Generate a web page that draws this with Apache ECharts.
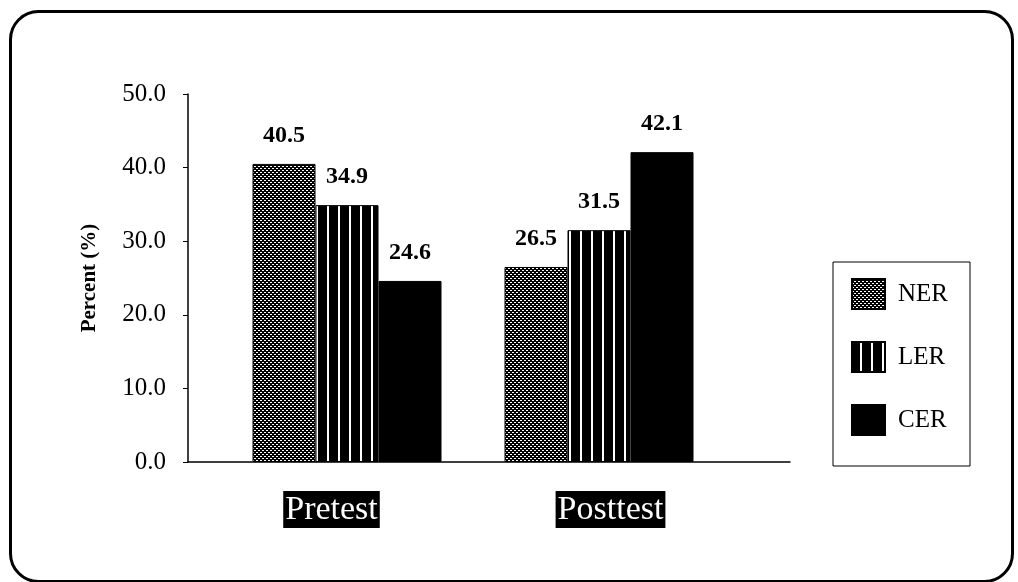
<!DOCTYPE html>
<html>
<head>
<meta charset="utf-8">
<script src="https://cdn.jsdelivr.net/npm/echarts@6/dist/echarts.min.js"></script>
<style>
html,body{margin:0;padding:0;background:#fff;}
#chart{width:1018px;height:582px;}
</style>
</head>
<body>
<div id="chart"></div>
<script>
var categories = ['Pretest', 'Posttest'];
var seriesNames = ['NER', 'LER', 'CER'];
var nerValues = [40.5, 26.5];
var lerValues = [34.9, 31.5];
var cerValues = [24.6, 42.1];
var yTicks = [0, 10, 20, 30, 40, 50];

function makePattern(w, h, draw) {
  var c = document.createElement('canvas');
  c.width = w; c.height = h;
  var ctx = c.getContext('2d');
  ctx.fillStyle = '#000';
  ctx.fillRect(0, 0, w, h);
  ctx.fillStyle = '#fff';
  draw(ctx);
  return { image: c, repeat: 'repeat' };
}
var dotPattern = makePattern(4, 4, function (ctx) {
  ctx.fillRect(0, 0, 2, 1);
  ctx.fillRect(2, 2, 2, 1);
});
var stripePattern = makePattern(11, 4, function (ctx) {
  ctx.fillRect(8, 0, 2, 4);
});

var serif = '"Liberation Serif", "DejaVu Serif", serif';
var chart = echarts.init(document.getElementById('chart'), null, { renderer: 'canvas' });

var labelCfg = {
  show: true,
  position: 'top',
  distance: 16,
  fontFamily: serif,
  fontWeight: 'bold',
  fontSize: 24,
  color: '#000',
  formatter: function (p) { return p.value.toFixed(1); }
};

function barSeries(name, values, color) {
  return {
    name: name,
    type: 'bar',
    xAxisIndex: 2,
    yAxisIndex: 2,
    data: values,
    barWidth: 63,
    barGap: '0%',
    itemStyle: { color: color, borderColor: '#000', borderWidth: 1 },
    label: labelCfg,
    emphasis: { disabled: true }
  };
}

var option = {
  backgroundColor: '#fff',
  animation: false,
  graphic: [{
    type: 'rect',
    left: 8, top: 9,
    shape: { width: 1002, height: 570, r: 28 },
    style: { fill: 'none', stroke: '#000', lineWidth: 3 },
    silent: true,
    z: -1
  }],
  grid: [
    { left: 188, right: 228, top: 94, bottom: 120 },
    { left: 192, right: 268, top: 94, bottom: 120 },
    { left: 221, right: 293, top: 94, bottom: 120 }
  ],
  legend: {
    orient: 'vertical',
    left: 833,
    top: 262,
    data: seriesNames,
    itemWidth: 33,
    itemHeight: 30,
    itemGap: 31,
    padding: [16, 22, 30, 18],
    borderColor: '#000',
    borderWidth: 1,
    icon: 'rect',
    selectedMode: false,
    textStyle: { fontFamily: serif, fontSize: 25, color: '#000', padding: [0, 0, 0, 8] }
  },
  xAxis: [
    {
      type: 'category', gridIndex: 0, data: categories,
      axisLine: { show: true, lineStyle: { color: '#000', width: 1.5 } },
      axisTick: { show: false },
      axisLabel: { show: false },
      splitLine: { show: false }
    },
    {
      type: 'category', gridIndex: 1, data: categories,
      axisLine: { show: false },
      axisTick: { show: false },
      splitLine: { show: false },
      axisLabel: {
        show: true,
        margin: 29,
        fontFamily: serif,
        fontSize: 34,
        color: '#fff',
        backgroundColor: '#000',
        padding: [1, 2, 0, 2],
        lineHeight: 36
      }
    },
    {
      type: 'category', gridIndex: 2, data: categories, show: false
    }
  ],
  yAxis: [
    {
      type: 'value', gridIndex: 0,
      min: yTicks[0], max: yTicks[yTicks.length - 1], interval: 10,
      axisLine: { show: true, lineStyle: { color: '#000', width: 1.5 } },
      axisTick: { show: true, length: 5, lineStyle: { color: '#000' } },
      splitLine: { show: false },
      axisLabel: {
        margin: 22,
        fontFamily: serif,
        fontSize: 25,
        color: '#000',
        formatter: function (v) { return v.toFixed(1); }
      },
      name: 'Percent (%)',
      nameLocation: 'middle',
      nameRotate: 90,
      nameGap: 88,
      nameTextStyle: { fontFamily: serif, fontWeight: 'bold', fontSize: 21, color: '#000' }
    },
    { type: 'value', gridIndex: 1, min: 0, max: 50, show: false },
    { type: 'value', gridIndex: 2, min: 0, max: 50, show: false }
  ],
  series: [
    barSeries(seriesNames[0], nerValues, dotPattern),
    barSeries(seriesNames[1], lerValues, stripePattern),
    barSeries(seriesNames[2], cerValues, '#000')
  ]
};
chart.setOption(option);
</script>
</body>
</html>
